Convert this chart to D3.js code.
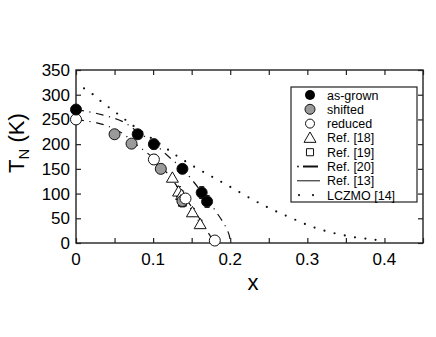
<!DOCTYPE html>
<html>
<head>
<meta charset="utf-8">
<script src="https://cdn.jsdelivr.net/npm/d3@7"></script>
<style>
body { margin: 0; background: #fff; }
text { font-family: "Liberation Sans", Arial, Helvetica, sans-serif; }
</style>
</head>
<body>
<div id="chart"></div>
<script>
////////////////////////// data //////////////////////////
var asGrownX = [0, 0.08, 0.101, 0.138, 0.163, 0.17];
var asGrownY = [270, 220, 200, 150, 102, 84];
var asGrownErr = [0, 6, 10, 8, 12, 12];

var shiftedX = [0.05, 0.072, 0.11, 0.138];
var shiftedY = [220, 201, 150, 85];
var shiftedErr = [0, 0, 0, 12];

var reducedX = [0, 0.101, 0.142, 0.18];
var reducedY = [250, 169, 90, 5];
var reducedErr = [0, 10, 10, 0];

var ref18X = [0.125, 0.133, 0.137, 0.151, 0.161];
var ref18Y = [132, 104, 97, 62, 38];
var ref18Err = [0, 10, 8, 8, 8];

var ref19X = [0.138];
var ref19Y = [82];

// Ref. [20] curves (dash-dot)
var ref20aX = [0, 0.027, 0.06, 0.08, 0.1, 0.12, 0.138, 0.163, 0.187, 0.195, 0.199, 0.2];
var ref20aY = [270, 262, 246, 225, 203, 175, 150, 103, 51, 30, 14, 0];
var ref20bX = [0, 0.027, 0.042, 0.06, 0.08, 0.1, 0.12, 0.14, 0.16, 0.175, 0.18];
var ref20bY = [250, 243, 236, 222, 197, 172, 138, 95, 50, 12, 0];

// LCZMO [14] (dotted)
var lczmoX = [0.0104, 0.0216, 0.032, 0.043, 0.055, 0.066, 0.079, 0.111, 0.133, 0.157, 0.18, 0.204, 0.23, 0.254, 0.28, 0.306, 0.332, 0.36, 0.386, 0.4];
var lczmoY = [313, 301, 287, 274, 260, 247, 232, 198, 174, 151, 131, 110, 87, 68, 50, 33, 21, 12, 7, 3];

var xTicks = [0, 0.1, 0.2, 0.3, 0.4];
var yTicks = [0, 50, 100, 150, 200, 250, 300, 350];
var legendLabels = ["as-grown", "shifted", "reduced", "Ref. [18]", "Ref. [19]", "Ref. [20]", "Ref. [13]", "LCZMO [14]"];

////////////////////////// layout //////////////////////////
var W = 436, H = 337;
var margin = {left: 76, top: 70, right: 13, bottom: 94};
var width = W - margin.left - margin.right,
    height = H - margin.top - margin.bottom;

var svg = d3.select("#chart").append("svg")
  .attr("width", W).attr("height", H);
var g = svg.append("g")
  .attr("transform", "translate(" + margin.left + "," + margin.top + ")");

var x = d3.scaleLinear().domain([0, 0.45]).range([0, width]);
var y = d3.scaleLinear().domain([0, 350]).range([height, 0]);

function zip(a, b, c) { return a.map(function(v, i){ return {x: v, y: b[i], e: c ? c[i] : 0}; }); }

////////////////////////// axes //////////////////////////
var minorX = d3.range(0, 0.451, 0.05);
var tl = 5;
g.append("g").attr("transform", "translate(0," + height + ")")
  .call(d3.axisBottom(x).tickValues(minorX).tickSize(-tl).tickFormat(""));
g.append("g")
  .call(d3.axisTop(x).tickValues(minorX).tickSize(-tl).tickFormat(""));
g.append("g")
  .call(d3.axisLeft(y).tickValues(yTicks).tickSize(-tl).tickFormat(""));
g.append("g").attr("transform", "translate(" + width + ",0)")
  .call(d3.axisRight(y).tickValues(yTicks).tickSize(-tl).tickFormat(""));
g.selectAll(".domain").remove();
g.selectAll(".tick line").attr("stroke", "#222").attr("stroke-width", 1.2);

g.append("rect").attr("width", width).attr("height", height)
  .attr("fill", "none").attr("stroke", "#222").attr("stroke-width", 1.4);

g.selectAll(".xlab").data(xTicks).enter().append("text")
  .attr("x", function(d){ return x(d); }).attr("y", height + 22)
  .attr("text-anchor", "middle").attr("font-size", 17)
  .text(function(d){ return d === 0 ? "0" : d3.format(".1f")(d); });
g.selectAll(".ylab").data(yTicks).enter().append("text")
  .attr("x", -6).attr("y", function(d){ return y(d) + 6; })
  .attr("text-anchor", "end").attr("font-size", 17)
  .text(function(d){ return d; });

svg.append("text").attr("x", 253).attr("y", 290)
  .attr("text-anchor", "middle").attr("font-size", 22).text("x");

var yl = svg.append("text")
  .attr("transform", "translate(24,143) rotate(-90)")
  .attr("text-anchor", "middle").attr("font-size", 22);
yl.append("tspan").text("T");
yl.append("tspan").attr("font-size", 15).attr("dy", 5).text("N");
yl.append("tspan").attr("dy", -5).text(" (K)");

////////////////////////// curves //////////////////////////
var line = d3.line().x(function(d){ return x(d.x); }).y(function(d){ return y(d.y); })
  .curve(d3.curveCatmullRom);

g.append("path").datum(zip(ref20aX, ref20aY)).attr("d", line)
  .attr("fill", "none").attr("stroke", "#111").attr("stroke-width", 1.2)
  .attr("stroke-dasharray", "8 5.5 1.2 5.5");
g.append("path").datum(zip(ref20bX, ref20bY)).attr("d", line)
  .attr("fill", "none").attr("stroke", "#111").attr("stroke-width", 1.2)
  .attr("stroke-dasharray", "8 5.5 1.2 5.5");
g.append("path").datum(zip(lczmoX, lczmoY)).attr("d", line)
  .attr("fill", "none").attr("stroke", "#111").attr("stroke-width", 2.2)
  .attr("stroke-linecap", "round").attr("stroke-dasharray", "0 10.4");

////////////////////////// markers //////////////////////////
function errorBars(data) {
  var eb = g.append("g").selectAll("g").data(data.filter(function(d){ return d.e > 0; }))
    .enter().append("g");
  eb.append("line")
    .attr("x1", function(d){ return x(d.x); }).attr("x2", function(d){ return x(d.x); })
    .attr("y1", function(d){ return y(d.y - d.e); }).attr("y2", function(d){ return y(d.y + d.e); })
    .attr("stroke", "#111").attr("stroke-width", 1);
  [-1, 1].forEach(function(s){
    eb.append("line")
      .attr("x1", function(d){ return x(d.x) - 2.5; }).attr("x2", function(d){ return x(d.x) + 2.5; })
      .attr("y1", function(d){ return y(d.y + s * d.e); }).attr("y2", function(d){ return y(d.y + s * d.e); })
      .attr("stroke", "#111").attr("stroke-width", 1);
  });
}

var tri = d3.symbol().type(d3.symbolTriangle).size(62);
var sq = d3.symbol().type(d3.symbolSquare).size(60);

var r19 = zip(ref19X, ref19Y);
g.selectAll(".sq").data(r19).enter().append("path")
  .attr("d", sq).attr("transform", function(d){ return "translate(" + x(d.x) + "," + y(d.y) + ")"; })
  .attr("fill", "#fff").attr("stroke", "#111").attr("stroke-width", 1);

var r18 = zip(ref18X, ref18Y, ref18Err);
errorBars(r18);
g.selectAll(".tri").data(r18).enter().append("path")
  .attr("d", tri).attr("transform", function(d){ return "translate(" + x(d.x) + "," + (y(d.y) + 1) + ")"; })
  .attr("fill", "#fff").attr("stroke", "#111").attr("stroke-width", 1);

function circles(data, fill) {
  errorBars(data);
  g.append("g").selectAll("circle").data(data).enter().append("circle")
    .attr("cx", function(d){ return x(d.x); }).attr("cy", function(d){ return y(d.y); })
    .attr("r", 5.5).attr("fill", fill).attr("stroke", "#111").attr("stroke-width", 1);
}
circles(zip(shiftedX, shiftedY, shiftedErr), "#9a9a9a");
circles(zip(reducedX, reducedY, reducedErr), "#fff");
circles(zip(asGrownX, asGrownY, asGrownErr), "#000");

////////////////////////// legend //////////////////////////
var lg = svg.append("g");
lg.append("rect").attr("x", 291).attr("y", 87).attr("width", 126).attr("height", 115)
  .attr("fill", "#fff").attr("stroke", "#222").attr("stroke-width", 1.2);
var sx = 310, row = function(i){ return 95 + i * 14.3; };
lg.selectAll("text").data(legendLabels).enter().append("text")
  .attr("x", 327).attr("y", function(d, i){ return row(i) + 4.5; })
  .attr("font-size", 12.5).text(function(d){ return d; });
lg.append("circle").attr("cx", sx).attr("cy", row(0)).attr("r", 5).attr("fill", "#000");
lg.append("circle").attr("cx", sx).attr("cy", row(1)).attr("r", 5).attr("fill", "#9a9a9a").attr("stroke", "#111");
lg.append("circle").attr("cx", sx).attr("cy", row(2)).attr("r", 4.5).attr("fill", "#fff").attr("stroke", "#111");
lg.append("path").attr("d", tri).attr("transform", "translate(" + sx + "," + (row(3) + 1) + ")")
  .attr("fill", "#fff").attr("stroke", "#111");
lg.append("path").attr("d", d3.symbol().type(d3.symbolSquare).size(50)).attr("transform", "translate(" + sx + "," + row(4) + ")")
  .attr("fill", "#fff").attr("stroke", "#111");
lg.append("circle").attr("cx", 298).attr("cy", row(5)).attr("r", 0.9).attr("fill", "#111");
lg.append("line").attr("x1", 303).attr("x2", 318).attr("y1", row(5)).attr("y2", row(5))
  .attr("stroke", "#111").attr("stroke-width", 2);
lg.append("line").attr("x1", 297).attr("x2", 320).attr("y1", row(6)).attr("y2", row(6))
  .attr("stroke", "#111").attr("stroke-width", 1);
lg.append("circle").attr("cx", 299).attr("cy", row(7)).attr("r", 1.1).attr("fill", "#111");
lg.append("circle").attr("cx", 313).attr("cy", row(7)).attr("r", 1.1).attr("fill", "#111");
</script>
</body>
</html>
